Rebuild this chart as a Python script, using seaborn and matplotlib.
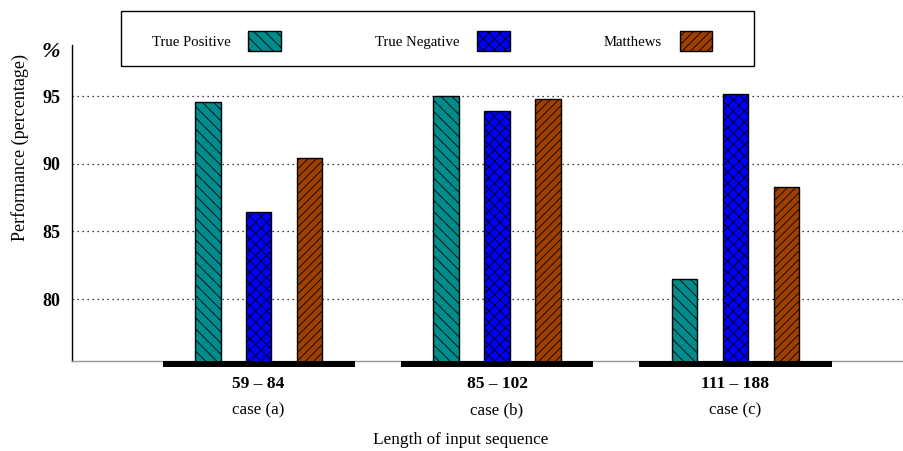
"""Grouped bar chart: true positive / true negative / Matthews by sequence length."""

import matplotlib.pyplot as plt
import matplotlib.patches as mpatches
import matplotlib.transforms as mtransforms
import pandas as pd
import seaborn as sns

# --- data --------------------------------------------------------------------
cases = ["59 – 84", "85 – 102", "111 – 188"]
case_names = ["case (a)", "case (b)", "case (c)"]
metrics = ["True Positive", "True Negative", "Matthews"]
true_positive = [94.55, 95.0, 81.5]
true_negative = [86.4, 93.9, 95.15]
matthews = [90.45, 94.8, 88.3]

colors = ["#008C8C", "#0000FF", "#A04000"]
hatches = ["\\\\\\", "xxx", "////"]

df = pd.DataFrame({
    "case": cases * 3,
    "metric": [m for m in metrics for _ in cases],
    "value": true_positive + true_negative + matthews,
})

sns.set_theme(style="white")
plt.rcParams["font.family"] = ["Liberation Serif", "DejaVu Serif"]
plt.rcParams["text.color"] = "black"
plt.rcParams["axes.labelcolor"] = "black"
plt.rcParams["xtick.color"] = "black"
plt.rcParams["ytick.color"] = "black"
plt.rcParams["hatch.color"] = "black"
plt.rcParams["hatch.linewidth"] = 0.6

fig = plt.figure(figsize=(9.04, 4.51), dpi=100)
ax = fig.add_axes([72 / 904, 90 / 451, 832 / 904, 316 / 451])

sns.barplot(
    data=df, x="case", y="value", hue="metric", order=cases, hue_order=metrics,
    palette=colors, width=0.64, gap=0.5, edgecolor="black", linewidth=1.0,
    saturation=1, legend=False, ax=ax, zorder=3,
)
for container, hatch in zip(ax.containers, hatches):
    for bar in container:
        bar.set_hatch(hatch)

ax.set_ylim(75.42, 98.77)
ax.set_xlim(-0.783, 2.707)
ax.set_yticks([80, 85, 90, 95])
ax.set_yticklabels(["80", "85", "90", "95"], fontweight="bold", fontsize=13)
ax.set_xticks(range(len(cases)))
ax.set_xticklabels(cases, fontweight="bold", fontsize=12.5)
ax.tick_params(axis="y", length=0, pad=8.5)
ax.tick_params(axis="x", length=0, pad=11)
ax.grid(axis="y", color="black", linestyle=(0, (1, 3)), linewidth=0.9, zorder=0)
ax.grid(axis="x", visible=False)

for side in ["top", "right"]:
    ax.spines[side].set_visible(False)
ax.spines["left"].set_color("black")
ax.spines["left"].set_linewidth(1.0)
ax.spines["bottom"].set_color("#999999")
ax.spines["bottom"].set_linewidth(1.0)

# thick black base under each group
trans = mtransforms.blended_transform_factory(ax.transData, ax.transAxes)
for i, name in enumerate(case_names):
    ax.add_patch(mpatches.Rectangle(
        (i - 0.403, -0.019), 0.806, 0.019, transform=trans,
        facecolor="black", edgecolor="none", clip_on=False, zorder=4,
    ))
    ax.text(i, -0.155, name, transform=trans, ha="center", va="center",
            fontsize=12.2)

ax.set_xlabel("Length of input sequence", fontsize=12.4)
ax.xaxis.set_label_coords(0.4675, -0.225)
ax.set_ylabel("Performance (percentage)", fontsize=13)
ax.yaxis.set_label_coords(-0.052, 0.677)

fig.text(51 / 904, 1 - 52 / 451, "%", fontsize=16, fontweight="bold",
         fontstyle="italic", ha="center", va="center")

# legend: frameless entries inside a separately drawn box
handles = [
    mpatches.Patch(facecolor=c, edgecolor="black", hatch=h, label=m)
    for m, c, h in zip(metrics, colors, hatches)
]
fig.legend(
    handles=handles, loc="lower left", ncol=3, mode="expand", markerfirst=False,
    bbox_to_anchor=(137 / 904, 1 - 66 / 451, 590 / 904, 55 / 451),
    borderaxespad=0, borderpad=1.0, fontsize=10.6, handlelength=2.2,
    handleheight=1.7, handletextpad=1.2, frameon=False,
)
fig.add_artist(mpatches.Rectangle(
    (121 / 904, 1 - 66 / 451), 633 / 904, 55 / 451, transform=fig.transFigure,
    facecolor="none", edgecolor="black", linewidth=1.0,
))

fig.savefig("out.png", dpi=100)
